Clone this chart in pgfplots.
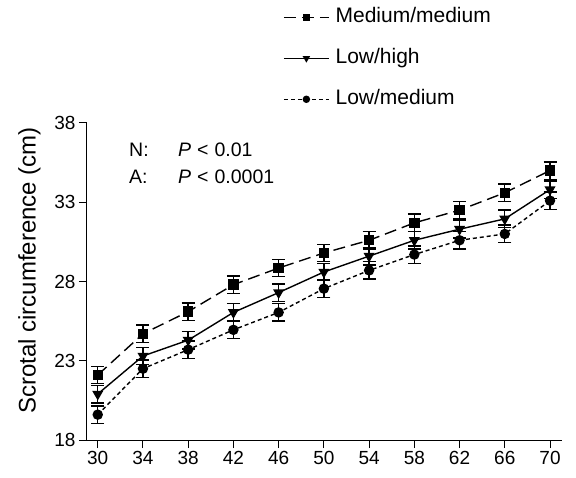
\documentclass[border=0pt]{standalone}
\usepackage{fontspec}
\setmainfont{Liberation Sans}
\usepackage{pgfplots}
\pgfplotsset{compat=1.18}
\begin{document}
\begin{tikzpicture}[x=1pt,y=1pt]
\path[use as bounding box] (0,0) rectangle (576,477);
\begin{axis}[
  at={(87pt,37pt)}, anchor=south west,
  scale only axis, width=475pt, height=317pt,
  xmin=29.05, xmax=71.06, ymin=18, ymax=38,
  axis x line*=bottom, axis y line*=left,
  xtick={30,34,38,42,46,50,54,58,62,66,70},
  ytick={18,23,28,33,38},
  tick align=outside, major tick length=8pt,
  tick style={line width=1pt, black},
  axis line style={line width=1pt},
  ticklabel style={font=\fontsize{19}{22}\selectfont},
  /pgf/number format/assume math mode=true,
  ylabel={Scrotal circumference (cm)},
  ylabel style={font=\fontsize{24}{28}\selectfont, at={(axis description cs:-0.108,0.535)}, anchor=base, rotate=0},
  legend cell align=left,
  legend style={draw=none, fill=none, inner sep=0pt,
    at={(axis description cs:0.4126,1.372)}, anchor=north west,
    font=\fontsize{21}{25}\selectfont, row sep=17pt,
    /tikz/every odd column/.style={column sep=4pt},
    nodes={inner sep=2pt, text height=15pt, text depth=5pt}},
  legend image code/.code={\draw[mark repeat=2,mark phase=2,#1,mark size=3pt] plot coordinates {(0pt,0pt) (22.5pt,0pt) (45pt,0pt)};},
  error bars/y dir=both, error bars/y explicit,
  error bars/error bar style={solid, line width=1.4pt},
  error bars/error mark options={solid, line width=1.5pt, mark size=6.5pt, rotate=90},
]
\addplot[black, line width=1.4pt, dash pattern=on 12pt off 6pt, mark=square*, mark size=4.5pt, mark options={solid}]
coordinates {
(30,22.1) +- (0,0.55)
(34,24.7) +- (0,0.55)
(38,26.1) +- (0,0.55)
(42,27.8) +- (0,0.55)
(46,28.85) +- (0,0.55)
(50,29.8) +- (0,0.55)
(54,30.6) +- (0,0.55)
(58,31.7) +- (0,0.55)
(62,32.5) +- (0,0.55)
(66,33.6) +- (0,0.55)
(70,35.0) +- (0,0.55)
};
\addlegendentry{Medium/medium}
\addplot[black, line width=1.4pt, solid, mark=triangle*, mark size=5pt, mark options={solid, rotate=180}]
coordinates {
(30,20.9) +- (0,0.55)
(34,23.3) +- (0,0.55)
(38,24.3) +- (0,0.55)
(42,26.05) +- (0,0.55)
(46,27.3) +- (0,0.55)
(50,28.6) +- (0,0.55)
(54,29.6) +- (0,0.55)
(58,30.6) +- (0,0.55)
(62,31.3) +- (0,0.55)
(66,31.95) +- (0,0.55)
(70,33.8) +- (0,0.55)
};
\addlegendentry{Low/high}
\addplot[black, line width=1.4pt, dash pattern=on 4pt off 3pt, mark=*, mark size=4.5pt, mark options={solid}]
coordinates {
(30,19.6) +- (0,0.55)
(34,22.5) +- (0,0.55)
(38,23.7) +- (0,0.55)
(42,24.95) +- (0,0.55)
(46,26.05) +- (0,0.55)
(50,27.55) +- (0,0.55)
(54,28.7) +- (0,0.55)
(58,29.7) +- (0,0.55)
(62,30.6) +- (0,0.55)
(66,31.0) +- (0,0.55)
(70,33.1) +- (0,0.55)
};
\addlegendentry{Low/medium}
\end{axis}
\begin{scope}[every node/.style={anchor=base west, inner sep=0pt, font=\fontsize{19.5}{23}\selectfont}]
\node at (129,320.3) {N:};
\node at (178,320.3) {\textit{P}\hspace{6pt}<\hspace{6pt}0.01};
\node at (129,293.7) {A:};
\node at (178,293.7) {\textit{P}\hspace{6pt}<\hspace{6pt}0.0001};
\end{scope}
\end{tikzpicture}
\end{document}
